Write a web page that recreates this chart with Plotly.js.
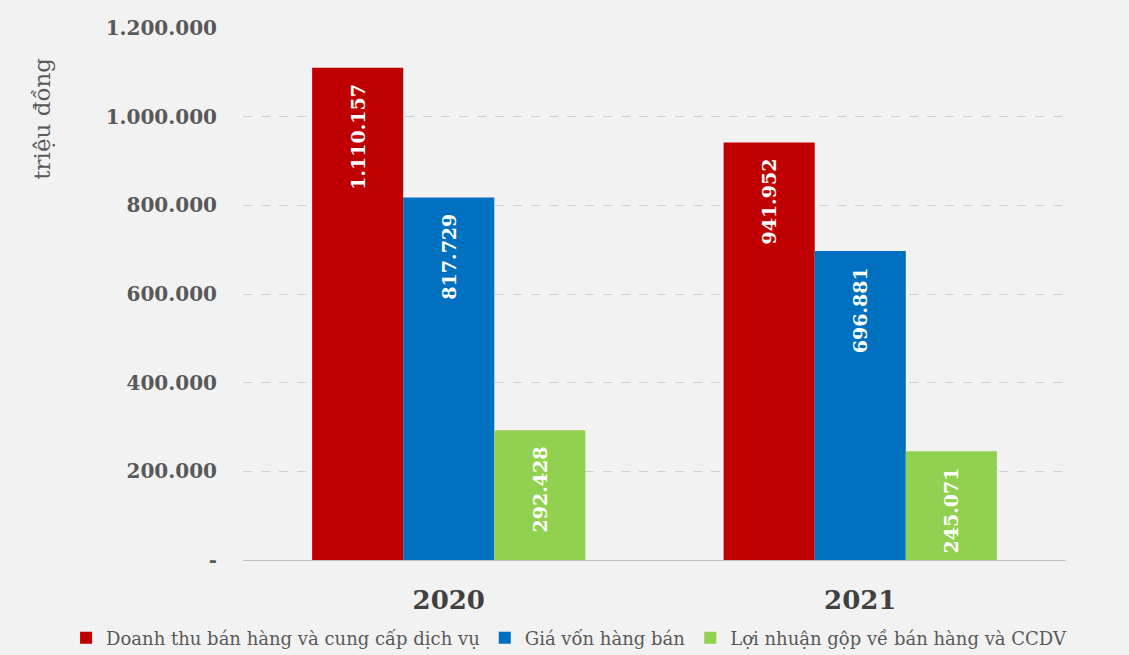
<!DOCTYPE html>
<html><head><meta charset="utf-8">
<script src="https://cdn.plot.ly/plotly-3.0.1.min.js"></script>
<style>html,body{margin:0;padding:0;background:#F2F2F2;}</style>
</head><body>
<div id="chart" style="width:1129px;height:655px;"></div>
<script>
const years = ["2020", "2021"];
const seriesNames = ["Doanh thu bán hàng và cung cấp dịch vụ", "Giá vốn hàng bán", "Lợi nhuận gộp về bán hàng và CCDV"];
const doanhThu = [1110157, 941952];
const giaVon = [817729, 696881];
const loiNhuan = [292428, 245071];
const tickVals = [0, 200000, 400000, 600000, 800000, 1000000, 1200000];
const tickText = ["-", "200.000", "400.000", "600.000", "800.000", "1.000.000", "1.200.000"];
const colors = ["#C00000", "#0070C0", "#92D050"];
const FONT = "'DejaVu Serif', 'Liberation Serif', serif";
function fmt(v){ return v.toString().replace(/\B(?=(\d{3})+(?!\d))/g, "."); }
const vals = [doanhThu, giaVon, loiNhuan];
const traces = vals.map((v,i)=>({
  type:"bar", x:years, y:v, name:seriesNames[i],
  marker:{color:colors[i]},
  text:v.map(x=>fmt(x)+"\u00a0\u00a0"), textposition:"inside", insidetextanchor:"end", textangle:-90,
  textfont:{family:FONT, size:19, color:"#ffffff", weight:"bold"},
  hoverinfo:"none"
}));
const layout = {
  width:1129, height:655,
  paper_bgcolor:"#F2F2F2", plot_bgcolor:"#F2F2F2",
  margin:{l:243, r:63, t:28, b:95, autoexpand:false},
  barmode:"group", bargap:0.336, bargroupgap:0,
  font:{family:FONT, color:"#595959"},
  xaxis:{tickfont:{family:FONT, size:26, color:"#404040", weight:"bold"}, showline:false, ticks:"", ticklabelstandoff:22},
  yaxis:{range:[0,1200000], tickvals:tickVals, ticktext:tickText,
    tickfont:{family:FONT, size:20, color:"#595959", weight:"bold"},
    gridcolor:"#C9D3E0", griddash:"dash", gridwidth:1,
    zeroline:true, zerolinecolor:"#BFBFBF", zerolinewidth:1, ticklabelstandoff:25},
  annotations:[{text:"triệu đồng", xref:"paper", yref:"paper", x:-0.244, y:0.83,
    xanchor:"center", yanchor:"middle", textangle:-90, showarrow:false,
    font:{family:FONT, size:23, color:"#595959"}}],
  legend:{orientation:"h", x:-0.215, xanchor:"left", y:-0.112, yanchor:"top",
    font:{family:FONT, size:18, color:"#595959"}, itemwidth:30, tracegroupgap:0},
  showlegend:true
};
Plotly.newPlot("chart", traces, layout, {displayModeBar:false, staticPlot:true});
</script>
</body></html>
